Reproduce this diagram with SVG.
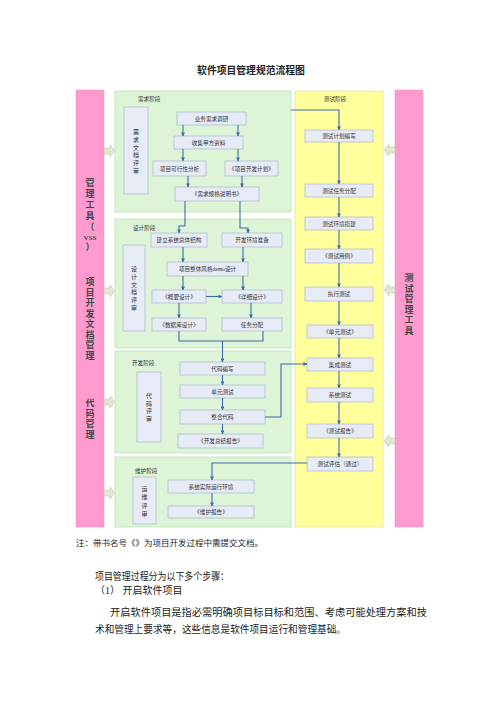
<svg xmlns="http://www.w3.org/2000/svg" width="500" height="707" viewBox="0 0 500 707">
<style>
text{font-family:"Liberation Serif","Noto Sans CJK SC",serif;fill:#333}
.stage{fill:#DDF5D6;stroke:#BFE0B8;stroke-width:0.8}
.test{fill:#FFFF9C;stroke:#E2E2A8;stroke-width:0.8}
.bar{fill:#FD9BCF;stroke:#F08BC0;stroke-width:0.5}
.box{fill:#E7EBF6;stroke:#A9B6CC;stroke-width:0.7}
.bt{font-size:5.6px;text-anchor:middle}
.lbl{font-size:5.6px}
.vt{font-size:6px;text-anchor:middle}
.bart{font-size:9px;font-weight:bold;text-anchor:middle;fill:#444}
.con{fill:none;stroke:#3C6DAE;stroke-width:1.1}
.blk{fill:#E3E6D3;stroke:#C2C6AA;stroke-width:0.6}
.body{font-size:10px;fill:#222}
</style>
<defs>
<marker id="ah" viewBox="0 0 6 6" refX="5.5" refY="3" markerWidth="3.5" markerHeight="3.5" orient="auto">
<path d="M0,0 L6,3 L0,6 z" fill="#3C6DAE"/>
</marker>
</defs>

<text x="251" y="74" style="font-size:9.8px;font-weight:bold;text-anchor:middle;fill:#222">软件项目管理规范流程图</text>

<!-- side bars -->
<g id="left-bar">
<rect class="bar" x="76" y="90" width="28" height="437"/>
<text class="bart"><tspan x="90" y="186">管</tspan><tspan x="90" y="197">理</tspan><tspan x="90" y="208">工</tspan><tspan x="90" y="219">具</tspan><tspan x="90" y="230">（</tspan><tspan x="90" y="240" style="font-size:7px">VSS</tspan><tspan x="90" y="250">）</tspan></text>
<text class="bart"><tspan x="90" y="285">项</tspan><tspan x="90" y="295.5">目</tspan><tspan x="90" y="306">开</tspan><tspan x="90" y="316.5">发</tspan><tspan x="90" y="327">文</tspan><tspan x="90" y="337.5">档</tspan><tspan x="90" y="348">管</tspan><tspan x="90" y="358.5">理</tspan></text>
<text class="bart"><tspan x="90" y="406">代</tspan><tspan x="90" y="416.5">码</tspan><tspan x="90" y="427">管</tspan><tspan x="90" y="437.5">理</tspan></text>
</g>
<g id="right-bar">
<rect class="bar" x="395" y="90" width="28" height="437"/>
<text class="bart"><tspan x="409" y="281">测</tspan><tspan x="409" y="291.5">试</tspan><tspan x="409" y="302">管</tspan><tspan x="409" y="312.5">理</tspan><tspan x="409" y="323">工</tspan><tspan x="409" y="333.5">具</tspan></text>
</g>

<!-- block arrows -->
<g id="block-arrows">
<polygon class="blk" points="104,148 110,148 110,145 115,151 110,157 110,154 104,154"/>
<polygon class="blk" points="104,288 110,288 110,285 115,291 110,297 110,294 104,294"/>
<polygon class="blk" points="104,399 110,399 110,396 115,402 110,408 110,405 104,405"/>
<polygon class="blk" points="104,490 110,490 110,487 115,493 110,499 110,496 104,496"/>
<polygon class="blk" points="395,147 389,147 389,144 384,150 389,156 389,153 395,153"/>
<polygon class="blk" points="395,287 389,287 389,284 384,290 389,296 389,293 395,293"/>
<polygon class="blk" points="395,438 389,438 389,435 384,441 389,447 389,444 395,444"/>
</g>

<!-- stages -->
<g id="stage-req">
<rect class="stage" x="115" y="91" width="176" height="121"/>
<text class="lbl" x="138" y="101">需求阶段</text>
<rect class="box" x="124" y="107" width="24" height="87"/>
<text class="vt"><tspan x="136" y="134">需</tspan><tspan x="136" y="141.8">求</tspan><tspan x="136" y="149.6">文</tspan><tspan x="136" y="157.4">档</tspan><tspan x="136" y="165.2">评</tspan><tspan x="136" y="173">审</tspan></text>
</g>
<g id="stage-design">
<rect class="stage" x="115" y="219" width="176" height="129"/>
<text class="lbl" x="133" y="230">设计阶段</text>
<rect class="box" x="123" y="245" width="22" height="86"/>
<text class="vt"><tspan x="134" y="271">设</tspan><tspan x="134" y="278.8">计</tspan><tspan x="134" y="286.6">文</tspan><tspan x="134" y="294.4">档</tspan><tspan x="134" y="302.2">评</tspan><tspan x="134" y="310">审</tspan></text>
</g>
<g id="stage-dev">
<rect class="stage" x="115" y="351" width="176" height="102"/>
<text class="lbl" x="132" y="365">开发阶段</text>
<rect class="box" x="137" y="372" width="24" height="70"/>
<text class="vt"><tspan x="149" y="398">代</tspan><tspan x="149" y="405.7">码</tspan><tspan x="149" y="413.4">评</tspan><tspan x="149" y="421.1">审</tspan></text>
</g>
<g id="stage-maint">
<rect class="stage" x="115" y="457" width="176" height="70"/>
<text class="lbl" x="135" y="473">维护阶段</text>
<rect class="box" x="133" y="477" width="23" height="47"/>
<text class="vt"><tspan x="144.5" y="491">运</tspan><tspan x="144.5" y="499.3">维</tspan><tspan x="144.5" y="507.6">评</tspan><tspan x="144.5" y="515.9">审</tspan></text>
</g>
<g id="stage-test">
<rect class="test" x="295" y="91" width="88" height="436"/>
<text class="lbl" x="335" y="101" text-anchor="middle">测试阶段</text>
</g>

<!-- requirement nodes -->
<g id="n-yewu"><rect class="box" x="177" y="112" width="69" height="13"/><text class="bt" x="211.5" y="120.5">业务需求调研</text></g>
<g id="n-shouji"><rect class="box" x="174" y="136" width="69" height="13"/><text class="bt" x="208.5" y="144.5">收集甲方资料</text></g>
<g id="n-kexing"><rect class="box" x="153" y="161" width="53" height="15"/><text class="bt" x="179.5" y="170.5">项目可行性分析</text></g>
<g id="n-jihua"><rect class="box" x="225" y="161" width="53" height="15"/><text class="bt" x="251.5" y="170.5">《项目开发计划》</text></g>
<g id="n-guige"><rect class="box" x="175" y="187" width="84" height="14"/><text class="bt" x="217" y="196">《需求规格说明书》</text></g>

<!-- design nodes -->
<g id="n-jiegou"><rect class="box" x="151" y="233" width="56" height="14"/><text class="bt" x="179" y="242">建立系统总体结构</text></g>
<g id="n-huanjing"><rect class="box" x="222" y="233" width="60" height="14"/><text class="bt" x="252" y="242">开发环境准备</text></g>
<g id="n-demo"><rect class="box" x="167" y="262" width="81" height="14"/><text class="bt" x="207.5" y="271">项目整体风格demo设计</text></g>
<g id="n-gaiyao"><rect class="box" x="152" y="290" width="54" height="13"/><text class="bt" x="179" y="298.5">《概要设计》</text></g>
<g id="n-xiangxi"><rect class="box" x="222" y="290" width="60" height="13"/><text class="bt" x="252" y="298.5">《详细设计》</text></g>
<g id="n-shujuku"><rect class="box" x="152" y="318" width="54" height="13"/><text class="bt" x="179" y="326.5">《数据库设计》</text></g>
<g id="n-renwu"><rect class="box" x="222" y="318" width="60" height="13"/><text class="bt" x="252" y="326.5">任务分配</text></g>

<!-- dev nodes -->
<g id="n-bianxie"><rect class="box" x="180" y="362" width="85" height="13"/><text class="bt" x="222.5" y="370.5">代码编写</text></g>
<g id="n-danyuan"><rect class="box" x="180" y="385" width="85" height="13"/><text class="bt" x="222.5" y="393.5">单元测试</text></g>
<g id="n-zhenghe"><rect class="box" x="180" y="410" width="85" height="14"/><text class="bt" x="222.5" y="419">整合代码</text></g>
<g id="n-zongjie"><rect class="box" x="178" y="434" width="85" height="14"/><text class="bt" x="220.5" y="443">《开发总结报告》</text></g>

<!-- maintenance nodes -->
<g id="n-yunxing"><rect class="box" x="168" y="480" width="86" height="13"/><text class="bt" x="211" y="488.5">系统实际运行环境</text></g>
<g id="n-weihu"><rect class="box" x="168" y="506" width="86" height="12"/><text class="bt" x="211" y="514">《维护报告》</text></g>

<!-- test nodes -->
<g id="t-jihua"><rect class="box" x="305" y="130" width="68" height="12"/><text class="bt" x="339" y="138">测试计划编写</text></g>
<g id="t-renwu"><rect class="box" x="305" y="184" width="68" height="13"/><text class="bt" x="339" y="192.5">测试任务分配</text></g>
<g id="t-huanjing"><rect class="box" x="305" y="217" width="68" height="13"/><text class="bt" x="339" y="225.5">测试环境搭建</text></g>
<g id="t-yongli"><rect class="box" x="305" y="249" width="68" height="14"/><text class="bt" x="339" y="258">《测试用例》</text></g>
<g id="t-zhixing"><rect class="box" x="305" y="287" width="68" height="14"/><text class="bt" x="339" y="296">执行测试</text></g>
<g id="t-danyuan"><rect class="box" x="307" y="325" width="66" height="13"/><text class="bt" x="340" y="333.5">《单元测试》</text></g>
<g id="t-jicheng"><rect class="box" x="307" y="358" width="66" height="13"/><text class="bt" x="340" y="366.5">集成测试</text></g>
<g id="t-xitong"><rect class="box" x="307" y="388" width="66" height="14"/><text class="bt" x="340" y="397">系统测试</text></g>
<g id="t-baogao"><rect class="box" x="307" y="424" width="66" height="14"/><text class="bt" x="340" y="433">《测试报告》</text></g>
<g id="t-pinggu"><rect class="box" x="307" y="457" width="66" height="14"/><text class="bt" x="340" y="466">测试评估（通过）</text></g>

<!-- connectors -->
<g id="connectors">
<path class="con" marker-end="url(#ah)" d="M183,125 V136"/>
<path class="con" marker-end="url(#ah)" d="M238,125 V136"/>
<path class="con" marker-end="url(#ah)" d="M183,149 V161"/>
<path class="con" marker-end="url(#ah)" d="M238,149 V161"/>
<path class="con" marker-end="url(#ah)" d="M188,176 V187"/>
<path class="con" marker-end="url(#ah)" d="M242,176 V187"/>
<path class="con" marker-end="url(#ah)" d="M185,201 V226 H179 V233"/>
<path class="con" marker-end="url(#ah)" d="M240,201 V228 H248 V233"/>
<path class="con" marker-end="url(#ah)" d="M183,247 V262"/>
<path class="con" marker-end="url(#ah)" d="M243,247 V262"/>
<path class="con" marker-end="url(#ah)" d="M183,276 V290"/>
<path class="con" marker-end="url(#ah)" d="M243,276 V290"/>
<path class="con" marker-end="url(#ah)" d="M206,296.5 H222"/>
<path class="con" marker-end="url(#ah)" d="M179,303 V318"/>
<path class="con" marker-end="url(#ah)" d="M251,303 V318"/>
<path class="con" d="M179,331 V341 H263 V331"/>
<path class="con" marker-end="url(#ah)" d="M222.5,341 V362"/>
<path class="con" marker-end="url(#ah)" d="M222.5,375 V385"/>
<path class="con" marker-end="url(#ah)" d="M222.5,398 V410"/>
<path class="con" marker-end="url(#ah)" d="M222.5,424 V434"/>
<path class="con" marker-end="url(#ah)" d="M265,417 H281 V364 H307"/>
<path class="con" marker-end="url(#ah)" d="M291,110 H339 V130"/>
<path class="con" marker-end="url(#ah)" d="M339,142 V184"/>
<path class="con" marker-end="url(#ah)" d="M339,197 V217"/>
<path class="con" marker-end="url(#ah)" d="M339,230 V249"/>
<path class="con" marker-end="url(#ah)" d="M339,263 V287"/>
<path class="con" marker-end="url(#ah)" d="M339,301 V325"/>
<path class="con" marker-end="url(#ah)" d="M339,338 V358"/>
<path class="con" marker-end="url(#ah)" d="M339,371 V388"/>
<path class="con" marker-end="url(#ah)" d="M339,402 V424"/>
<path class="con" marker-end="url(#ah)" d="M339,438 V457"/>
<path class="con" marker-end="url(#ah)" d="M307,463 H212 V480"/>
<path class="con" marker-end="url(#ah)" d="M212,493 V506"/>
</g>

<!-- text below -->
<text x="76" y="546" style="font-size:8px;fill:#222" textLength="187" lengthAdjust="spacingAndGlyphs">注：带书名号《》为项目开发过程中需提交文档。</text>
<text class="body" x="95" y="580" textLength="134" lengthAdjust="spacingAndGlyphs">项目管理过程分为以下多个步骤：</text>
<text class="body" x="95" y="594">（1）  开启软件项目</text>
<text class="body" x="110" y="616" textLength="317" lengthAdjust="spacingAndGlyphs">开启软件项目是指必需明确项目标目标和范围、考虑可能处理方案和技</text>
<text class="body" x="95" y="633" textLength="251" lengthAdjust="spacingAndGlyphs">术和管理上要求等，这些信息是软件项目运行和管理基础。</text>
</svg>
